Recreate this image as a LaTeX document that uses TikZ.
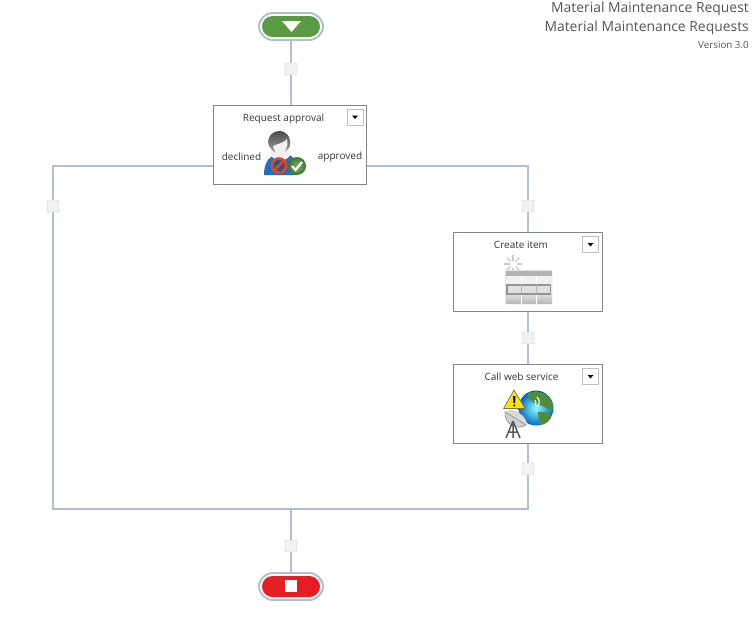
\documentclass[tikz,border=0pt]{standalone}
\usepackage{fontspec}
\setmainfont{Open Sans}
\usetikzlibrary{calc,backgrounds}
\definecolor{wirecol}{RGB}{176,192,208}
\definecolor{boxcol}{RGB}{130,135,140}
\definecolor{textcol}{RGB}{55,55,55}
\definecolor{startcol}{RGB}{90,155,65}
\definecolor{stopcol}{RGB}{228,30,35}
\definecolor{bodycol}{RGB}{40,110,190}
\definecolor{nocol}{RGB}{226,72,30}
\definecolor{okcol}{RGB}{95,165,70}
\tikzset{
	wire/.style={draw=wirecol, line width=1.5pt},
	gate/.style={draw=black!22, fill=black!5, rounded corners=1.5pt, minimum size=12pt, inner sep=0pt},
	stepbox/.style={draw=boxcol, fill=white, line width=0.9pt, minimum width=149.5pt, minimum height=79pt, inner sep=0pt},
	menubox/.style={draw=black!25, fill=white, minimum size=16pt, inner sep=0pt},
	pill/.style={draw=wirecol, fill=white, line width=2pt, rounded corners=14pt, minimum width=64pt, minimum height=27pt, inner sep=0pt},
	pillcore/.style={rounded corners=10.5pt, minimum width=58pt, minimum height=21pt, inner sep=0pt},
	label/.style={text=textcol, font=\fontsize{10}{12}\selectfont, inner sep=0pt},
	title/.style={text=textcol!85, font=\fontsize{13.9}{15}\selectfont, anchor=east, inner sep=0pt}
}
\newcommand{\menutip}[1]{\fill[black] ($(#1)+(-3,-1.5)$) -- ++(6,0) -- ++(-3,3.5) -- cycle;}
\begin{document}
\begin{tikzpicture}[x=1pt,y=-1pt]
	\useasboundingbox (0,0) rectangle (754,619);

	% title block
	\node (T1)[title] at (749,8.5){Material Maintenance Request};
	\node (T2)[title] at (749,27.5){Material Maintenance Requests};
	\node (T3)[title, font=\fontsize{9.8}{11}\selectfont] at (749,44.5){Version 3.0};

	% fork and merge corners
	\coordinate (L1) at (53,166);
	\coordinate (R1) at (528,166);
	\coordinate (L2) at (53,509);
	\coordinate (R2) at (528,509);
	\coordinate (M2) at (291,509);

	\node (S)[pill] at (291,26.5){};
	\node (E)[pill] at (291,586.5){};
	\node (S1)[pillcore, fill=startcol] at (S){};
	\node (E1)[pillcore, fill=stopcol] at (E){};
	\node (A)[stepbox, minimum width=153.5pt] at (290,144.5){};
	\node (C)[stepbox] at (528,271.5){};
	\node (W)[stepbox] at (528,403.5){};

	\node (G1)[gate] at (291,69){};
	\node (G2)[gate] at (53,206){};
	\node (G3)[gate] at (528,206){};
	\node (G4)[gate] at (528,338){};
	\node (G5)[gate] at (528,469){};
	\node (G6)[gate] at (291,546){};

	\begin{pgfonlayer}{background}
	\draw[wire] (S) -- (G1);
	\draw[wire] (G1) -- (G1 |- A.north);
	\draw[wire] (A.west |- L1) -- (L1) -- (G2);
	\draw[wire] (G2) -- (L2) -- (M2);
	\draw[wire] (A.east |- R1) -- (R1) -- (G3);
	\draw[wire] (G3) -- (C);
	\draw[wire] (C) -- (G4);
	\draw[wire] (G4) -- (W);
	\draw[wire] (W) -- (G5);
	\draw[wire] (G5) -- (R2) -- (M2);
	\draw[wire] (M2) -- (G6);
	\draw[wire] (G6) -- (E);
	\end{pgfonlayer}

	\fill[white] (282,21) -- (301,21) -- (291.5,32) -- cycle;
	\fill[white] (285,580) rectangle (297,592);

	\node (A1)[label] at (283.5,118.5){Request approval};
	\node (A2)[label] at (241.5,157){declined};
	\node (A3)[label] at (340,157){approved};
	\node (C1)[label] at (521,244.5){Create item};
	\node (W1)[label] at (521.5,376.5){Call web service};

	\node (AM)[menubox] at (355,117){};
	\node (CM)[menubox] at (590.5,244.5){};
	\node (WM)[menubox] at (590.5,376.5){};
	\menutip{AM}
	\menutip{CM}
	\menutip{WM}

	% person icon
	\fill[bodycol] (264,175) .. controls (264,161) and (270,156) .. (278,154) -- (286,154) .. controls (294,156) and (298,160) .. (298,175) -- cycle;
	\fill[black!6] (270,153) .. controls (273,163) and (288,163) .. (291,153) -- (285,146) -- (275,146) -- cycle;
	\shade[top color=black!70, bottom color=black!35] (268,142) .. controls (268,135) and (274,131) .. (279,131) .. controls (287,131) and (291,137) .. (290,146) .. controls (288,152) and (277,155) .. (272,150) .. controls (270,148) and (268,145) .. (268,142) -- cycle;
	\fill[black!5] (273,146) .. controls (277,144) and (284,143) .. (287,139) .. controls (289,146) and (285,154) .. (280,154) .. controls (276,154) and (274,150) .. (273,146) -- cycle;
	\shade[inner color=okcol!85!white, outer color=okcol!70!black] (297,166) circle (9);
	\draw[white, line width=2.2pt] (292,166) -- (295.5,170) -- (302,162);
	\filldraw[draw=nocol, fill=bodycol!80!black, line width=2.6pt] (279,165.5) circle (7);
	\draw[nocol, line width=2.6pt] (274.5,170) -- (283.5,161);

	% table icon
	\foreach \a in {0,45,...,315}
		\draw[black!20, line width=1.4pt] ($(513,264)+(\a:3.5)$) -- ($(513,264)+(\a:9)$);
	\draw[black!28, fill=black!6, rounded corners=2.5pt] (505.5,270) rectangle (552,304);
	\fill[black!30] (506,270.5) rectangle (551.5,276);
	\shade[top color=black!12, bottom color=black!28] (506,294) rectangle (551.5,303.5);
	\draw[white, line width=0.8pt] (521,276) -- (521,304) (536.5,276) -- (536.5,304);
	\draw[black!42, fill=black!12, line width=1.3pt] (507,285) rectangle (550.5,294);
	\draw[black!28, line width=0.6pt] (521,285) -- (521,294) (536.5,285) -- (536.5,294);

	% service icon
	\shade[inner color=cyan!45!white, outer color=blue!45!cyan!75!black] (536,408) circle (17.5);
	\fill[okcol!85!black] (528,393) .. controls (537,391) and (546,392) .. (550,398) .. controls (553,403) and (553,408) .. (552,411) .. controls (546,408) and (542,405) .. (537,404) .. controls (531,402) and (527,398) .. (528,393) -- cycle;
	\fill[okcol!85!black] (538,412) .. controls (548,411) and (553,414) .. (551,418) .. controls (547,424) and (542,426) .. (539,424) -- cycle;
	\fill[black!15] (505,412) .. controls (508,416) and (519,424) .. (527,425) .. controls (528,418) and (514,405) .. (505,412) -- cycle;
	\draw[black!45, line width=0.6pt, fill=black!18] (505,412) .. controls (504,424) and (517,431) .. (526,425) -- cycle;
	\draw[white, line width=1.1pt] (535,400) arc (-50:50:3) (537,397) arc (-50:50:6.5);
	\draw[black!65, line width=1.5pt] (513,421) -- (506,438) (513,421) -- (520,438) (513,421) -- (513,438) (509,432) -- (517,432);
	\filldraw[draw=black!60!yellow, fill=yellow!85!orange, line width=0.7pt, line join=round] (514,390) -- (525,408.5) -- (503.5,408.5) -- cycle;
	\fill[black] (513,396) -- (515.5,396) -- (515,403) -- (513.5,403) -- cycle;
	\fill[black] (514.25,405.5) circle (1.2);
\end{tikzpicture}
\end{document}
